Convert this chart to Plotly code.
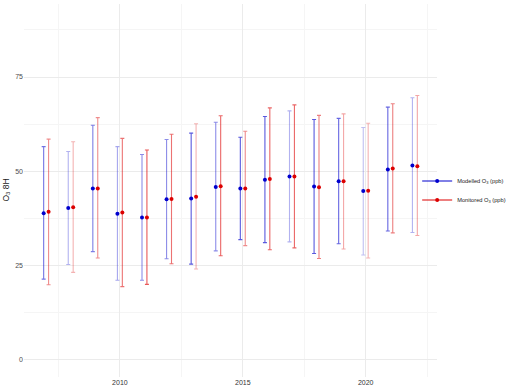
import plotly.graph_objects as go

years = list(range(2007, 2023))

mod_mean = [38.8, 40.2, 45.4, 38.7, 37.7, 42.5, 42.7, 45.8, 45.4, 47.7, 48.6, 45.9, 47.3, 44.7, 50.4, 51.5]
mod_upper = [56.5, 55.2, 62.2, 56.5, 54.4, 58.4, 60.1, 63.0, 59.0, 64.5, 66.0, 63.7, 64.0, 61.6, 67.0, 69.5]
mod_lower = [21.3, 25.2, 28.6, 21.0, 21.0, 26.7, 25.3, 28.8, 31.8, 31.0, 31.2, 28.1, 30.7, 27.7, 34.1, 33.7]
mod_alpha = [0.55, 0.3, 0.5, 0.35, 0.45, 0.45, 0.65, 0.45, 0.65, 0.65, 0.3, 0.65, 0.6, 0.25, 0.6, 0.3]

mon_mean = [39.2, 40.4, 45.4, 39.0, 37.7, 42.6, 43.2, 46.0, 45.4, 47.9, 48.6, 45.7, 47.3, 44.8, 50.7, 51.3]
mon_upper = [58.5, 57.8, 64.2, 58.7, 55.6, 59.8, 62.6, 64.7, 60.6, 66.8, 67.6, 64.8, 65.2, 62.7, 67.9, 70.1]
mon_lower = [19.8, 23.1, 26.9, 19.3, 19.9, 25.4, 24.0, 27.5, 30.2, 29.1, 29.6, 26.8, 29.3, 26.9, 33.6, 32.9]
mon_alpha = [0.45, 0.3, 0.45, 0.55, 0.65, 0.55, 0.3, 0.6, 0.45, 0.6, 0.6, 0.5, 0.35, 0.3, 0.5, 0.35]

series = [
    ("Modelled O<sub>3</sub> (ppb)", mod_mean, mod_upper, mod_lower, mod_alpha, (0, 0, 205), -0.1),
    ("Monitored O<sub>3</sub> (ppb)", mon_mean, mon_upper, mon_lower, mon_alpha, (220, 0, 0), 0.1),
]

fig = go.Figure()

for name, mean, up, lo, alph, rgb, dodge in series:
    xs = [y + dodge for y in years]
    for xi, m, u, l, a in zip(xs, mean, up, lo, alph):
        fig.add_trace(go.Scatter(
            x=[xi], y=[m], mode="markers",
            marker=dict(size=1, opacity=0),
            error_y=dict(type="data", symmetric=False, array=[u - m], arrayminus=[m - l],
                         color=f"rgba({rgb[0]},{rgb[1]},{rgb[2]},{a})", thickness=1.1, width=2),
            showlegend=False, hoverinfo="skip"))
    fig.add_trace(go.Scatter(
        x=xs, y=mean, mode="markers",
        marker=dict(size=4, color=f"rgb({rgb[0]},{rgb[1]},{rgb[2]})"),
        showlegend=False))
    fig.add_trace(go.Scatter(
        x=[None], y=[None], mode="lines+markers", name=name,
        marker=dict(size=4, color=f"rgb({rgb[0]},{rgb[1]},{rgb[2]})"),
        line=dict(width=1, color=f"rgb({rgb[0]},{rgb[1]},{rgb[2]})")))

fig.update_layout(
    width=515, height=391,
    margin=dict(l=24, r=73, t=4, b=14),
    paper_bgcolor="white", plot_bgcolor="white",
    font=dict(family="Liberation Sans, Arial, sans-serif", color="#4D4D4D", size=7),
    legend=dict(x=0.952, xanchor="left", y=0.5, yanchor="middle",
                font=dict(size=5.7, color="#1a1a1a"), itemwidth=30,
                bgcolor="rgba(0,0,0,0)", tracegroupgap=0, borderwidth=0),
    xaxis=dict(range=[2006.1, 2022.9], tickvals=[2010, 2015, 2020], showgrid=True,
               gridcolor="#EBEBEB", gridwidth=1, zeroline=False, showline=False, ticks="",
               tickfont=dict(size=7, color="#333333"),
               minor=dict(tickvals=[2007.5, 2012.5, 2017.5, 2022.5], showgrid=True,
                          gridcolor="#F5F5F5", gridwidth=0.6, ticks="")),
    yaxis=dict(range=[-4.7, 94.4], tickvals=[0, 25, 50, 75], showgrid=True,
               gridcolor="#EBEBEB", gridwidth=1, zeroline=False, showline=False, ticks="",
               tickfont=dict(size=7, color="#4D4D4D"),
               minor=dict(tickvals=[12.5, 37.5, 62.5, 87.5], showgrid=True,
                          gridcolor="#F5F5F5", gridwidth=0.6, ticks="")),
)

fig.add_annotation(text="O<sub>3</sub> 8H", xref="paper", yref="paper", x=0, y=0.5,
                   xshift=-18, textangle=-90, showarrow=False,
                   font=dict(size=8.5, color="#1a1a1a"), xanchor="center", yanchor="middle")

fig.write_html("out.html", config={"displayModeBar": False},
               post_script="document.body.style.margin='0';")
